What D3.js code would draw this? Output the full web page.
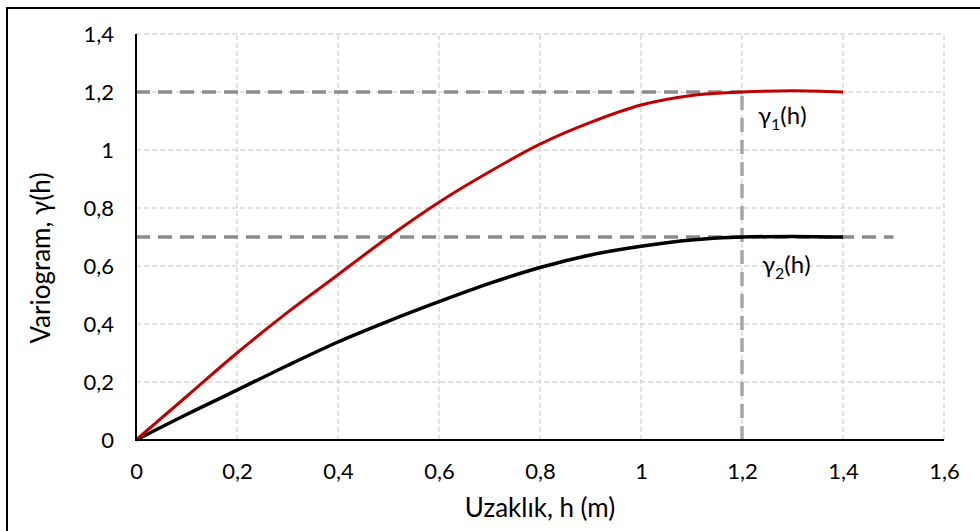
<!DOCTYPE html>
<html><head><meta charset="utf-8">
<script src="https://cdn.jsdelivr.net/npm/d3@7/dist/d3.min.js"></script>
<style>body{margin:0;background:#fff}svg{display:block}text{font-family:Lato,"Noto Sans",sans-serif;fill:#000}</style>
</head><body><svg id="c" width="980" height="531"></svg>
<script>
const hValues = [0,0.1,0.2,0.3,0.4,0.5,0.6,0.7,0.8,0.9,1.0,1.1,1.2,1.3,1.4];
const gamma1 = [0,0.15,0.30,0.44,0.57,0.70,0.82,0.925,1.02,1.095,1.155,1.188,1.20,1.204,1.20];
const gamma2 = [0,0.088,0.172,0.257,0.338,0.41,0.477,0.54,0.595,0.638,0.668,0.69,0.70,0.702,0.70];
const xTicks = [0,0.2,0.4,0.6,0.8,1.0,1.2,1.4,1.6];
const yTicks = [0,0.2,0.4,0.6,0.8,1.0,1.2,1.4];
const sill1 = 1.2, sill2 = 0.7, rangeH = 1.2, sill2End = 1.5;

const svg = d3.select("#c");
const x = d3.scaleLinear().domain([0,1.6]).range([136,944]);
const y = d3.scaleLinear().domain([0,1.4]).range([440,34]);
const fmt = v => String(+v.toFixed(1)).replace(".", ",");

svg.append("rect").attr("x",7).attr("y",8).attr("width",990).attr("height",540)
  .attr("fill","none").attr("stroke","#000").attr("stroke-width",2);

const g = svg.append("g");
g.selectAll(".gx").data(xTicks.slice(1)).enter().append("line")
  .attr("x1",d=>x(d)).attr("x2",d=>x(d)).attr("y1",y(0)).attr("y2",y(1.4))
  .attr("stroke","#d9d9d9").attr("stroke-width",1.5).attr("stroke-dasharray","5,3");
g.selectAll(".gy").data(yTicks.slice(1)).enter().append("line")
  .attr("y1",d=>y(d)).attr("y2",d=>y(d)).attr("x1",x(0)).attr("x2",x(1.6))
  .attr("stroke","#d9d9d9").attr("stroke-width",1.5).attr("stroke-dasharray","5,3");

g.append("line").attr("x1",x(0)).attr("x2",x(rangeH)).attr("y1",y(sill1)).attr("y2",y(sill1))
  .attr("stroke","#8c8c8c").attr("stroke-width",3.5).attr("stroke-dasharray","14,8");
g.append("line").attr("x1",x(0)).attr("x2",x(sill2End)).attr("y1",y(sill2)).attr("y2",y(sill2))
  .attr("stroke","#8c8c8c").attr("stroke-width",3.5).attr("stroke-dasharray","14,8");
g.append("line").attr("x1",x(rangeH)).attr("x2",x(rangeH)).attr("y1",y(0)).attr("y2",y(sill1))
  .attr("stroke","#a6a6a6").attr("stroke-width",3.5).attr("stroke-dasharray","14,8");

const xAxis = d3.axisBottom(x).tickValues(xTicks).tickFormat(fmt).tickSize(0).tickPadding(23);
const yAxis = d3.axisLeft(y).tickValues(yTicks).tickFormat(fmt).tickSize(0).tickPadding(22);
const ga = svg.append("g").attr("transform",`translate(0,${y(0)})`).call(xAxis);
const gb = svg.append("g").attr("transform",`translate(${x(0)},0)`).call(yAxis);
[ga,gb].forEach(a=>{a.attr("font-size",null).attr("font-family",null);a.select(".domain").remove();a.selectAll("text").style("font-size","22px").style("font-family","Lato");});

const line = d3.line().x((d,i)=>x(hValues[i])).y(d=>y(d)).curve(d3.curveMonotoneX);
svg.append("path").datum(gamma2).attr("d",line).attr("fill","none").attr("stroke","#000").attr("stroke-width",3.5);
svg.append("path").datum(gamma1).attr("d",line).attr("fill","none").attr("stroke","#c00000").attr("stroke-width",3);

svg.append("line").attr("x1",x(0)).attr("x2",x(0)).attr("y1",y(0)+1).attr("y2",y(1.4)).attr("stroke","#000").attr("stroke-width",2);
svg.append("line").attr("x1",x(0)-1).attr("x2",x(1.6)).attr("y1",y(0)).attr("y2",y(0)).attr("stroke","#000").attr("stroke-width",2);

function glab(xx,yy,sub){
  const t = svg.append("text").attr("x",xx).attr("y",yy).style("font-size","24px");
  t.append("tspan").text("γ");
  t.append("tspan").attr("dy",6).style("font-size","16px").text(sub);
  t.append("tspan").attr("dy",-6).text("(h)");
}
glab(758,124,"1");
glab(762,273,"2");

svg.append("text").attr("x",540).attr("y",517).attr("text-anchor","middle").style("font-size","26px").text("Uzaklık, h (m)");
svg.append("text").attr("transform","translate(50,258) rotate(-90)").attr("text-anchor","middle").style("font-size","26px").text("Variogram, γ(h)");
</script></body></html>
